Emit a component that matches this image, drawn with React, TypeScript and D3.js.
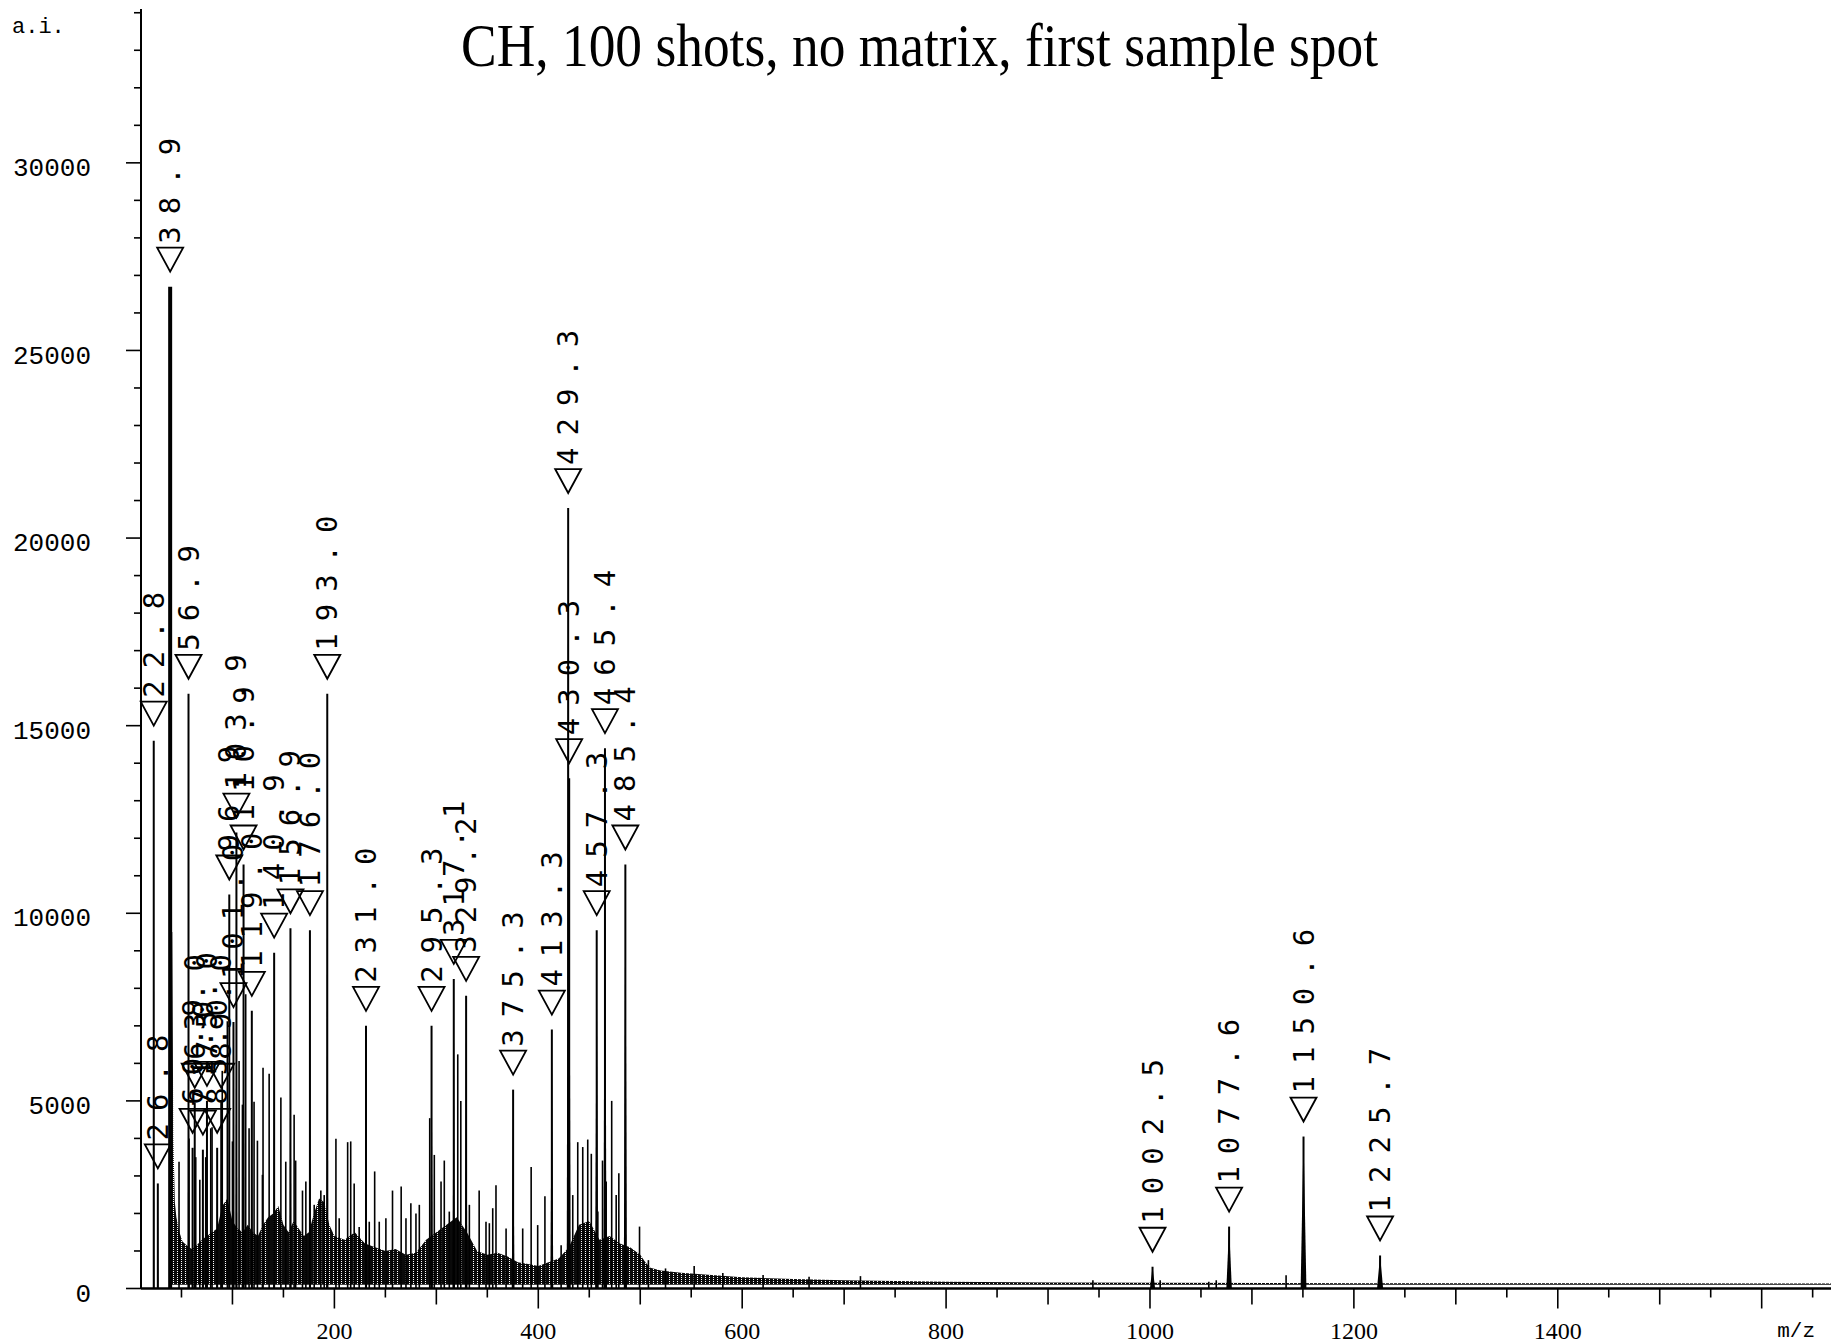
import { useEffect, useRef } from 'react';
import * as d3 from 'd3';

const W = 1831;
const H = 1344;

// labelled peaks (m/z label, position, intensity)
const peakLabels = ['22.8', '26.8', '38.9', '56.9', '60.9', '63.0', '71.0', '75.0', '85.0', '89.0',
  '96.9', '101.0', '103.9', '110.9', '119.0', '140.9', '156.9', '176.0', '193.0', '231.0',
  '295.3', '317.1', '329.2', '375.3', '413.3', '429.3', '430.3', '457.3', '465.4', '485.4',
  '1002.5', '1077.6', '1150.6', '1225.7'];
const peakMz = [22.8, 26.8, 38.9, 56.9, 60.9, 63.0, 71.0, 75.0, 85.0, 89.0,
  96.9, 101.0, 103.9, 110.9, 119.0, 140.9, 156.9, 176.0, 193.0, 231.0,
  295.3, 317.1, 329.2, 375.3, 413.3, 429.3, 430.3, 457.3, 465.4, 485.4,
  1002.5, 1077.6, 1150.6, 1225.7];
const peakInt = [14600, 2800, 26700, 15850, 3750, 4950, 3700, 5000, 3750, 4950,
  10500, 7100, 12150, 11300, 7400, 8950, 9600, 9550, 15850, 7000,
  7000, 8250, 7800, 5300, 6900, 20800, 13600, 9550, 14400, 11300,
  580, 1650, 4050, 880];

// unlabelled spikes
const spikeMz = [47.6, 57.4, 64, 68, 73.8, 78.7, 80, 90, 95, 100, 106.5, 109.8, 113, 116.3, 121.2,
  124.5, 129.4, 130, 136, 147.5, 152.3, 160.5, 162, 168.7, 172, 180.2, 186.7, 190,
  201.5, 204.7, 213, 216, 219.4, 224.3, 234.2, 239.5, 244, 250.5, 257, 265.5, 270.2, 275,
  280, 283.3, 293.5, 298, 304.6, 307.8, 312.7, 321, 324, 332.4, 342, 348.7, 352, 355.3,
  358.5, 368.4, 384.7, 393, 399.4, 406.5, 422.4, 433.8, 438.7, 443.6, 448.5, 452, 458.4,
  463, 466.6, 472, 476.4, 479, 499.3, 508, 524.8, 552.9, 581, 620.5, 665.6, 716,
  944, 1010, 1057.7, 1065, 1133.5];
const spikeInt = [3380, 4000, 3500, 2900, 3500, 4270, 4300, 5800, 7120, 3920, 6060, 4900, 7840, 4270, 4980,
  3940, 3030, 5880, 5720, 5090, 3380, 4630, 3410, 2610, 2850, 2230, 2610, 2490,
  3990, 1870, 3900, 3920, 2800, 1640, 1780, 3120, 1780, 1870, 2610, 2720, 1870, 2270,
  2000, 2230, 4540, 3560, 2850, 3410, 2050, 6240, 5000, 2230, 2610, 1780, 1740, 2140,
  2750, 1600, 1600, 3240, 1690, 2460, 1150, 2490, 3900, 3770, 3970, 3590, 2050,
  3410, 2850, 5000, 2490, 3070, 1650, 756, 535, 600, 410, 360, 315, 330,
  220, 220, 180, 220, 350];

// envelope of the dense background "grass"
const bgMz = [38.5, 39.5, 41, 42, 43.5, 45, 48, 51, 55, 60, 65, 70, 75, 80, 85, 90, 95, 100, 105,
  110, 115, 120, 125, 130, 135, 140, 145, 150, 155, 160, 165, 170, 175, 180, 185, 190, 195, 200,
  210, 220, 230, 240, 250, 260, 270, 280, 290, 300, 310, 320, 330, 340, 350, 360, 370, 380, 390,
  400, 410, 420, 430, 440, 450, 460, 470, 480, 490, 500, 505, 510, 520, 540, 560, 600, 650, 700,
  800, 900, 1000, 1200, 1400, 1668];
const bgInt = [130, 9500, 9500, 4000, 2300, 1900, 1500, 1250, 1150, 1050, 1150, 1300, 1400, 1500, 1600,
  2200, 2400, 1800, 1600, 1500, 1700, 1500, 1400, 1700, 1900, 2000, 2200, 1700, 1500, 1800, 1600,
  1400, 1500, 2000, 2400, 2300, 1700, 1400, 1300, 1500, 1200, 1100, 1000, 1050, 900, 950, 1300,
  1500, 1700, 1900, 1500, 1000, 900, 950, 850, 700, 650, 600, 700, 800, 1100, 1700, 1800, 1300,
  1400, 1200, 1100, 900, 700, 550, 480, 420, 380, 300, 250, 220, 180, 160, 150, 140, 140, 135];

const yTicks = [0, 5000, 10000, 15000, 20000, 25000, 30000];
const xTicks = [200, 400, 600, 800, 1000, 1200, 1400];

const App = () => {
  const ref = useRef<SVGSVGElement | null>(null);

  useEffect(() => {
    if (!ref.current) return;
    document.body.style.margin = '0';
    const svg = d3.select(ref.current);
    svg.selectAll('*').remove();

    const x = d3.scaleLinear().domain([10.3, 1668]).range([141, W]);
    const y = d3.scaleLinear().domain([0, 34100]).range([1288.5, 9]);
    const base = y(0);

    // texture for the grass
    const pat = svg.append('defs').append('pattern')
      .attr('id', 'grass')
      .attr('width', 4)
      .attr('height', 2)
      .attr('patternUnits', 'userSpaceOnUse');
    pat.append('rect').attr('width', 4).attr('height', 2).attr('fill', '#0a0a0a');
    pat.append('rect').attr('x', 1).attr('y', 1).attr('width', 1).attr('height', 1).attr('fill', '#fff');

    const bg = bgMz.map((m, i) => ({ mz: m, v: bgInt[i] }));
    const area = d3.area<{ mz: number; v: number }>()
      .x(d => x(d.mz))
      .y0(y(100))
      .y1(d => y(d.v));
    svg.append('path').attr('d', area(bg) || '').attr('fill', 'url(#grass)');

    // spikes
    svg.append('g').selectAll('line')
      .data(spikeMz.map((m, i) => ({ mz: m, v: spikeInt[i] })))
      .enter().append('line')
      .attr('x1', d => x(d.mz)).attr('x2', d => x(d.mz))
      .attr('y1', base).attr('y2', d => y(d.v))
      .attr('stroke', '#000').attr('stroke-width', 1.6);

    // labelled peaks
    const peaks = peakMz.map((m, i) => ({ mz: m, v: peakInt[i], label: peakLabels[i] }));
    const pg = svg.append('g');
    peaks.forEach(p => {
      const px = x(p.mz);
      const hw = 0.6 + p.mz * 0.002;
      pg.append('path')
        .attr('d', `M${px - hw},${base}L${px},${y(p.v)}L${px + hw},${base}Z`)
        .attr('fill', '#000');
      pg.append('line')
        .attr('x1', px).attr('x2', px)
        .attr('y1', base).attr('y2', y(p.v))
        .attr('stroke', '#000')
        .attr('stroke-width', p.v > 25000 ? 4 : 2);
    });

    // peak labels: triangle marker and rotated text
    const lg = svg.append('g');
    peaks.forEach(p => {
      const px = x(p.mz);
      const tip = y(p.v) - 15;
      lg.append('path')
        .attr('d', `M${px},${tip}L${px - 13},${tip - 24}L${px + 13},${tip - 24}Z`)
        .attr('fill', 'none')
        .attr('stroke', '#000')
        .attr('stroke-width', 1.8);
      const tx = px + 10;
      const ty = tip - 28;
      lg.append('text')
        .attr('transform', `translate(${tx},${ty}) rotate(-90)`)
        .attr('font-family', 'DejaVu Sans Mono')
        .attr('font-size', 29)
        .style('letter-spacing', '12px')
        .attr('fill', '#000')
        .text(p.label);
    });

    // baseline
    svg.append('line')
      .attr('x1', 141).attr('x2', W)
      .attr('y1', base).attr('y2', base)
      .attr('stroke', '#000').attr('stroke-width', 2.5);

    // y axis
    svg.append('line')
      .attr('x1', 141).attr('x2', 141)
      .attr('y1', 9).attr('y2', base)
      .attr('stroke', '#000').attr('stroke-width', 2);
    svg.append('g').selectAll('line')
      .data(d3.range(0, 34001, 1000))
      .enter().append('line')
      .attr('x1', d => (d % 5000 === 0 ? 126 : 134)).attr('x2', 141)
      .attr('y1', d => y(d)).attr('y2', d => y(d))
      .attr('stroke', '#000').attr('stroke-width', 1.6);
    svg.append('g').selectAll('text')
      .data(yTicks)
      .enter().append('text')
      .attr('x', 91).attr('y', d => y(d) + 4)
      .attr('dy', '0.35em')
      .attr('text-anchor', 'end')
      .attr('font-family', 'Liberation Mono')
      .attr('font-size', 26)
      .text(d => String(d));
    svg.append('text')
      .attr('x', 12).attr('y', 33)
      .attr('font-family', 'Liberation Mono')
      .attr('font-size', 22)
      .text('a.i.');

    // x ticks
    svg.append('g').selectAll('line')
      .data(d3.range(50, 1651, 50))
      .enter().append('line')
      .attr('x1', d => x(d)).attr('x2', d => x(d))
      .attr('y1', base).attr('y2', d => base + (d % 200 === 0 ? 20 : d % 100 === 0 ? 16 : 9))
      .attr('stroke', '#000').attr('stroke-width', 1.6);
    svg.append('g').selectAll('text')
      .data(xTicks)
      .enter().append('text')
      .attr('x', d => x(d)).attr('y', 1339)
      .attr('text-anchor', 'middle')
      .attr('font-family', 'Liberation Serif')
      .attr('font-size', 24)
      .text(d => String(d));
    svg.append('text')
      .attr('x', 1815).attr('y', 1337)
      .attr('text-anchor', 'end')
      .attr('font-family', 'Liberation Mono')
      .attr('font-size', 21)
      .text('m/z');

    // title
    svg.append('text')
      .attr('x', 919.5).attr('y', 66)
      .attr('text-anchor', 'middle')
      .attr('font-family', 'Liberation Serif')
      .attr('font-size', 62)
      .attr('textLength', 917)
      .attr('lengthAdjust', 'spacingAndGlyphs')
      .text('CH, 100 shots, no matrix, first sample spot');
  }, []);

  return <svg ref={ref} width={W} height={H} style={{ display: 'block', background: '#fff' }} />;
};

export default App;
